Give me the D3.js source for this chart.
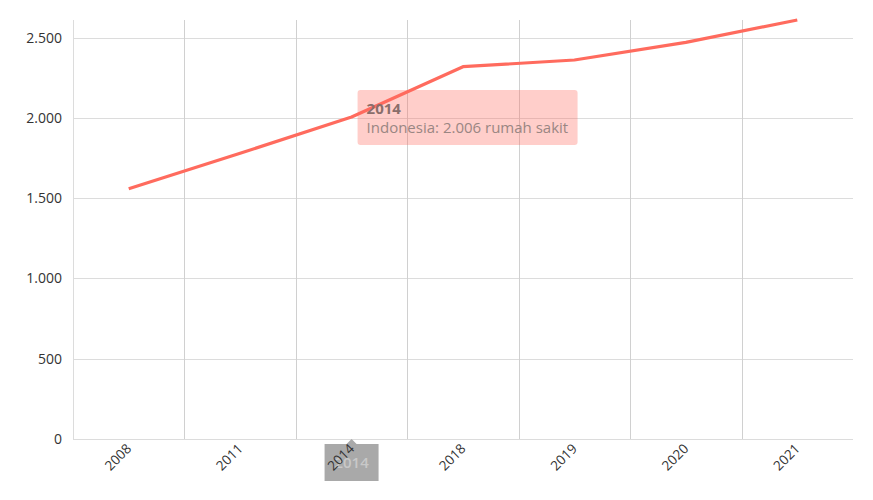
<!DOCTYPE html>
<html>
<head>
<meta charset="utf-8">
<script src="https://cdn.jsdelivr.net/npm/d3@7"></script>
<style>
  html, body { margin: 0; padding: 0; background: #fff; }
  svg { display: block; font-family: "Open Sans", "Noto Sans", sans-serif; }
</style>
</head>
<body>
<svg id="chart" width="873" height="500"></svg>
<script>
const categories = ["2008", "2011", "2014", "2018", "2019", "2020", "2021"];
const values = [1559, 1780, 2006, 2319, 2361, 2471, 2610];
const yTicks = [0, 500, 1000, 1500, 2000, 2500];
const seriesName = "Indonesia";
const unitLabel = "rumah sakit";
const hoverIndex = 2;

const FONT = '"Open Sans", "Noto Sans", sans-serif';
const W = 873, H = 500;
const margin = { left: 73, right: 20, top: 20, bottom: 61 };
const svg = d3.select("#chart");
const iw = W - margin.left - margin.right;
const ih = H - margin.top - margin.bottom;

const fmt = d3.formatLocale({ decimal: ",", thousands: ".", grouping: [3], currency: ["", ""] }).format(",.0f");

const x = d3.scaleBand().domain(categories).range([margin.left, margin.left + iw]).paddingInner(0).paddingOuter(0);
const y = d3.scaleLinear().domain([0, d3.max(values)]).range([margin.top + ih, margin.top]);

const g = svg.append("g");

// horizontal grid
g.append("g").selectAll("line").data(yTicks).join("line")
  .attr("x1", margin.left).attr("x2", margin.left + iw)
  .attr("y1", d => Math.round(y(d)) + 0.5).attr("y2", d => Math.round(y(d)) + 0.5)
  .attr("stroke", "#dcdcdc").attr("stroke-width", 1);

// vertical grid at category boundaries
const bounds = categories.map(c => x(c));
g.append("g").selectAll("line").data(bounds).join("line")
  .attr("x1", d => Math.round(d) + 0.5).attr("x2", d => Math.round(d) + 0.5)
  .attr("y1", margin.top).attr("y2", margin.top + ih)
  .attr("stroke", d => d === margin.left ? "#dcdcdc" : "#d0d0d0").attr("stroke-width", 1);

// y axis labels
const yAxis = d3.axisLeft(y).tickValues(yTicks).tickSize(0).tickPadding(11).tickFormat(fmt);
const ya = svg.append("g").attr("transform", `translate(${margin.left},0)`).call(yAxis)
  .attr("font-family", FONT).attr("font-size", 14);
ya.select(".domain").remove();
ya.selectAll("text").attr("fill", "#333");

// x axis labels
const xAxis = d3.axisBottom(x).tickSize(0).tickPadding(0);
const xa = svg.append("g").attr("transform", `translate(0,${margin.top + ih})`).call(xAxis)
  .attr("font-family", FONT).attr("font-size", 13.5);
xa.select(".domain").remove();

// axis tooltip (behind labels)
const hx = x(categories[hoverIndex]) + x.bandwidth() / 2;
const axTip = svg.insert("g", () => xa.node()).attr("class", "axis-tooltip");
axTip.append("path")
  .attr("d", `M${hx - 27},${margin.top + ih + 5} L${hx - 5},${margin.top + ih + 5} L${hx},${margin.top + ih} L${hx + 5},${margin.top + ih + 5} L${hx + 27},${margin.top + ih + 5} L${hx + 27},${margin.top + ih + 42} L${hx - 27},${margin.top + ih + 42} Z`)
  .attr("fill", "#a9a9a9");
axTip.append("text").attr("x", hx).attr("y", margin.top + ih + 29)
  .attr("text-anchor", "middle").attr("fill", "#c8c8c8")
  .style("font-family", FONT)
  .style("font-size", "15px").style("font-weight", "600").text(categories[hoverIndex]);

xa.selectAll("text")
  .attr("fill", "#333")
  .attr("text-anchor", "end")
  .attr("dy", null)
  .attr("transform", "translate(1,8) rotate(-45)")
  .attr("x", 0).attr("y", 0)
  .attr("dominant-baseline", "middle");

// line
const line = d3.line()
  .x((d, i) => x(categories[i]) + x.bandwidth() / 2)
  .y(d => y(d));
svg.append("path").datum(values)
  .attr("d", line)
  .attr("fill", "none")
  .attr("stroke", "#ff6b5e")
  .attr("stroke-width", 3.2)
  .attr("stroke-linejoin", "round");

// tooltip
const tx = hx + 6, ty = 90;
const tip = svg.append("g").style("font-family", FONT);
tip.append("rect").attr("x", tx).attr("y", ty).attr("width", 220).attr("height", 55)
  .attr("rx", 3).attr("fill", "#ff6b5e").attr("fill-opacity", 0.33);
tip.append("text").attr("x", tx + 9).attr("y", ty + 24)
  .attr("fill", "#8a6e6b").style("font-size", "15px").style("font-weight", "700")
  .text(categories[hoverIndex]);
tip.append("text").attr("x", tx + 9).attr("y", ty + 43)
  .attr("fill", "#9a8683").style("font-size", "15px")
  .text(`${seriesName}: ${fmt(values[hoverIndex])} ${unitLabel}`);
</script>
</body>
</html>
